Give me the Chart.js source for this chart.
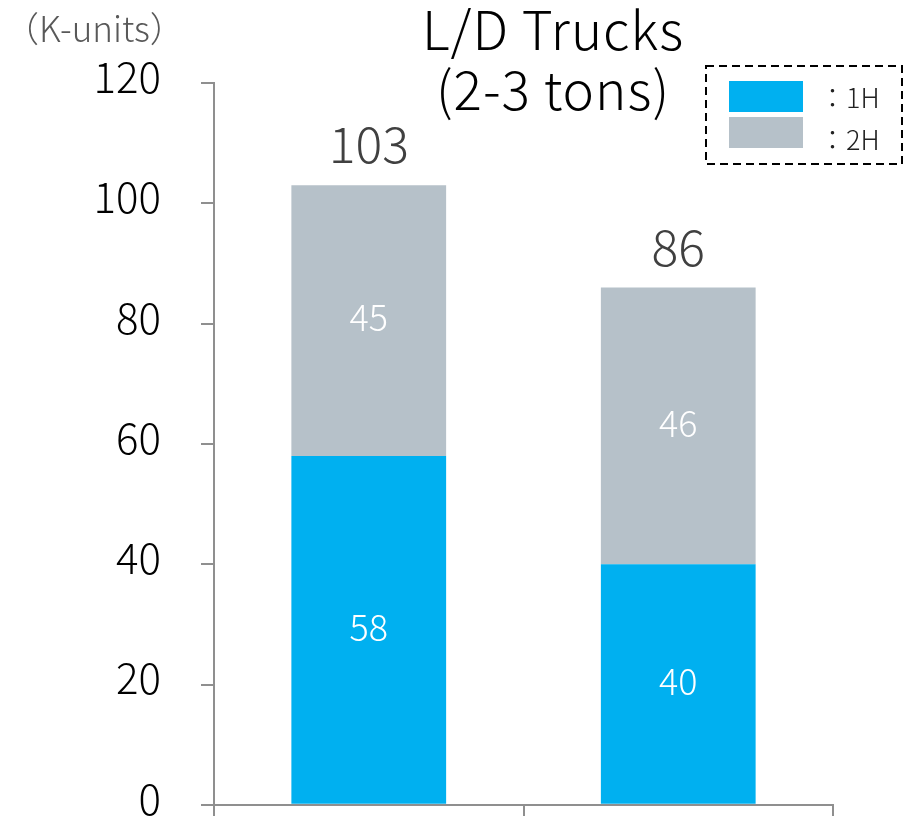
<!DOCTYPE html>
<html>
<head>
<meta charset="utf-8">
<script src="https://cdn.jsdelivr.net/npm/chart.js@4/dist/chart.umd.min.js"></script>
<style>
  html, body { margin: 0; padding: 0; background: #fff; overflow: hidden; height: 816px; }
  canvas { display: block; }
</style>
</head>
<body>
<canvas id="trucks" width="910" height="870"></canvas>
<script>
const periods = ["1st", "2nd"];
const firstHalf = [58, 40];
const secondHalf = [45, 46];
const legendLabels = ["：1H", "：2H"];
const yTicks = [0, 20, 40, 60, 80, 100, 120];

const FONT = '"Noto Sans CJK JP", "Noto Sans", sans-serif';
const BLUE = "#00B0F0";
const GREY = "#B6C1C9";
const AXIS = "#8f8f8f";

// titles, legend and value labels are painted straight onto the canvas
const decorations = {
    id: "decorations",
    afterDatasetsDraw(chart) {
        const ctx = chart.ctx;
        ctx.save();

        // value inside each segment
        ctx.fillStyle = "#fff";
        ctx.font = "300 36px " + FONT;
        ctx.textAlign = "center";
        ctx.textBaseline = "middle";
        chart.data.datasets.forEach((ds, di) => {
            chart.getDatasetMeta(di).data.forEach((bar, i) => {
                const p = bar.getProps(["x", "y", "base"], true);
                ctx.fillText(String(ds.data[i]), p.x, (p.y + p.base) / 2 - 3);
            });
        });

        // stack totals
        ctx.fillStyle = "#404040";
        ctx.font = "300 50px " + FONT;
        ctx.textBaseline = "alphabetic";
        const top = chart.getDatasetMeta(1).data;
        top.forEach((bar, i) => {
            const p = bar.getProps(["x", "y"], true);
            ctx.fillText(String(firstHalf[i] + secondHalf[i]), p.x, p.y - 22);
        });

        // chart title
        ctx.fillStyle = "#000";
        ctx.font = "300 53px " + FONT;
        ctx.letterSpacing = "1px";
        ctx.textBaseline = "middle";
        ctx.fillText("L/D Trucks", 553, 30);
        ctx.fillText("(2-3 tons)", 553, 90);
        ctx.letterSpacing = "0px";

        // unit
        ctx.fillStyle = "#595959";
        ctx.font = "300 35px " + FONT;
        ctx.textAlign = "left";
        ctx.fillText("（K-units）", 4, 29);

        // legend box
        ctx.strokeStyle = "#000";
        ctx.lineWidth = 2;
        ctx.setLineDash([8, 5]);
        ctx.strokeRect(706, 66, 196, 98);
        ctx.setLineDash([]);
        const colors = [BLUE, GREY];
        ctx.font = "300 27px " + FONT;
        colors.forEach((c, i) => {
            const y = 81 + i * 36;
            ctx.fillStyle = c;
            ctx.fillRect(729, y, 74, 31);
            ctx.fillStyle = "#222";
            ctx.fillText(legendLabels[i], 819, y + 17 + i * 6);
        });
        ctx.restore();
    }
};

new Chart(document.getElementById("trucks").getContext("2d"), {
    type: "bar",
    data: {
        labels: periods,
        datasets: [
            { label: "1H", data: firstHalf, backgroundColor: BLUE },
            { label: "2H", data: secondHalf, backgroundColor: GREY }
        ]
    },
    options: {
        responsive: false,
        animation: false,
        devicePixelRatio: 1,
        layout: { padding: { top: 83, right: 77, bottom: 0, left: 0 } },
        datasets: { bar: { barPercentage: 0.5, categoryPercentage: 1.0 } },
        scales: {
            x: {
                stacked: true,
                ticks: { display: false },
                grid: { drawOnChartArea: false, drawTicks: true, tickLength: 30, color: AXIS, lineWidth: 2 },
                border: { color: AXIS, width: 2 },
                afterFit: (s) => { s.height = 13; }
            },
            y: {
                stacked: true,
                min: 0,
                max: 120,
                afterBuildTicks: (s) => { s.ticks = yTicks.map(v => ({ value: v })); },
                ticks: { color: "#000", font: { family: FONT, size: 42, weight: 300 }, padding: 40, labelOffset: -6 },
                grid: { drawOnChartArea: false, drawTicks: true, tickLength: 13, color: AXIS, lineWidth: 2 },
                border: { color: AXIS, width: 2 },
                afterFit: (s) => { s.width = 214; }
            }
        },
        plugins: { legend: { display: false }, tooltip: { enabled: false } }
    },
    plugins: [decorations]
});
</script>
</body>
</html>
